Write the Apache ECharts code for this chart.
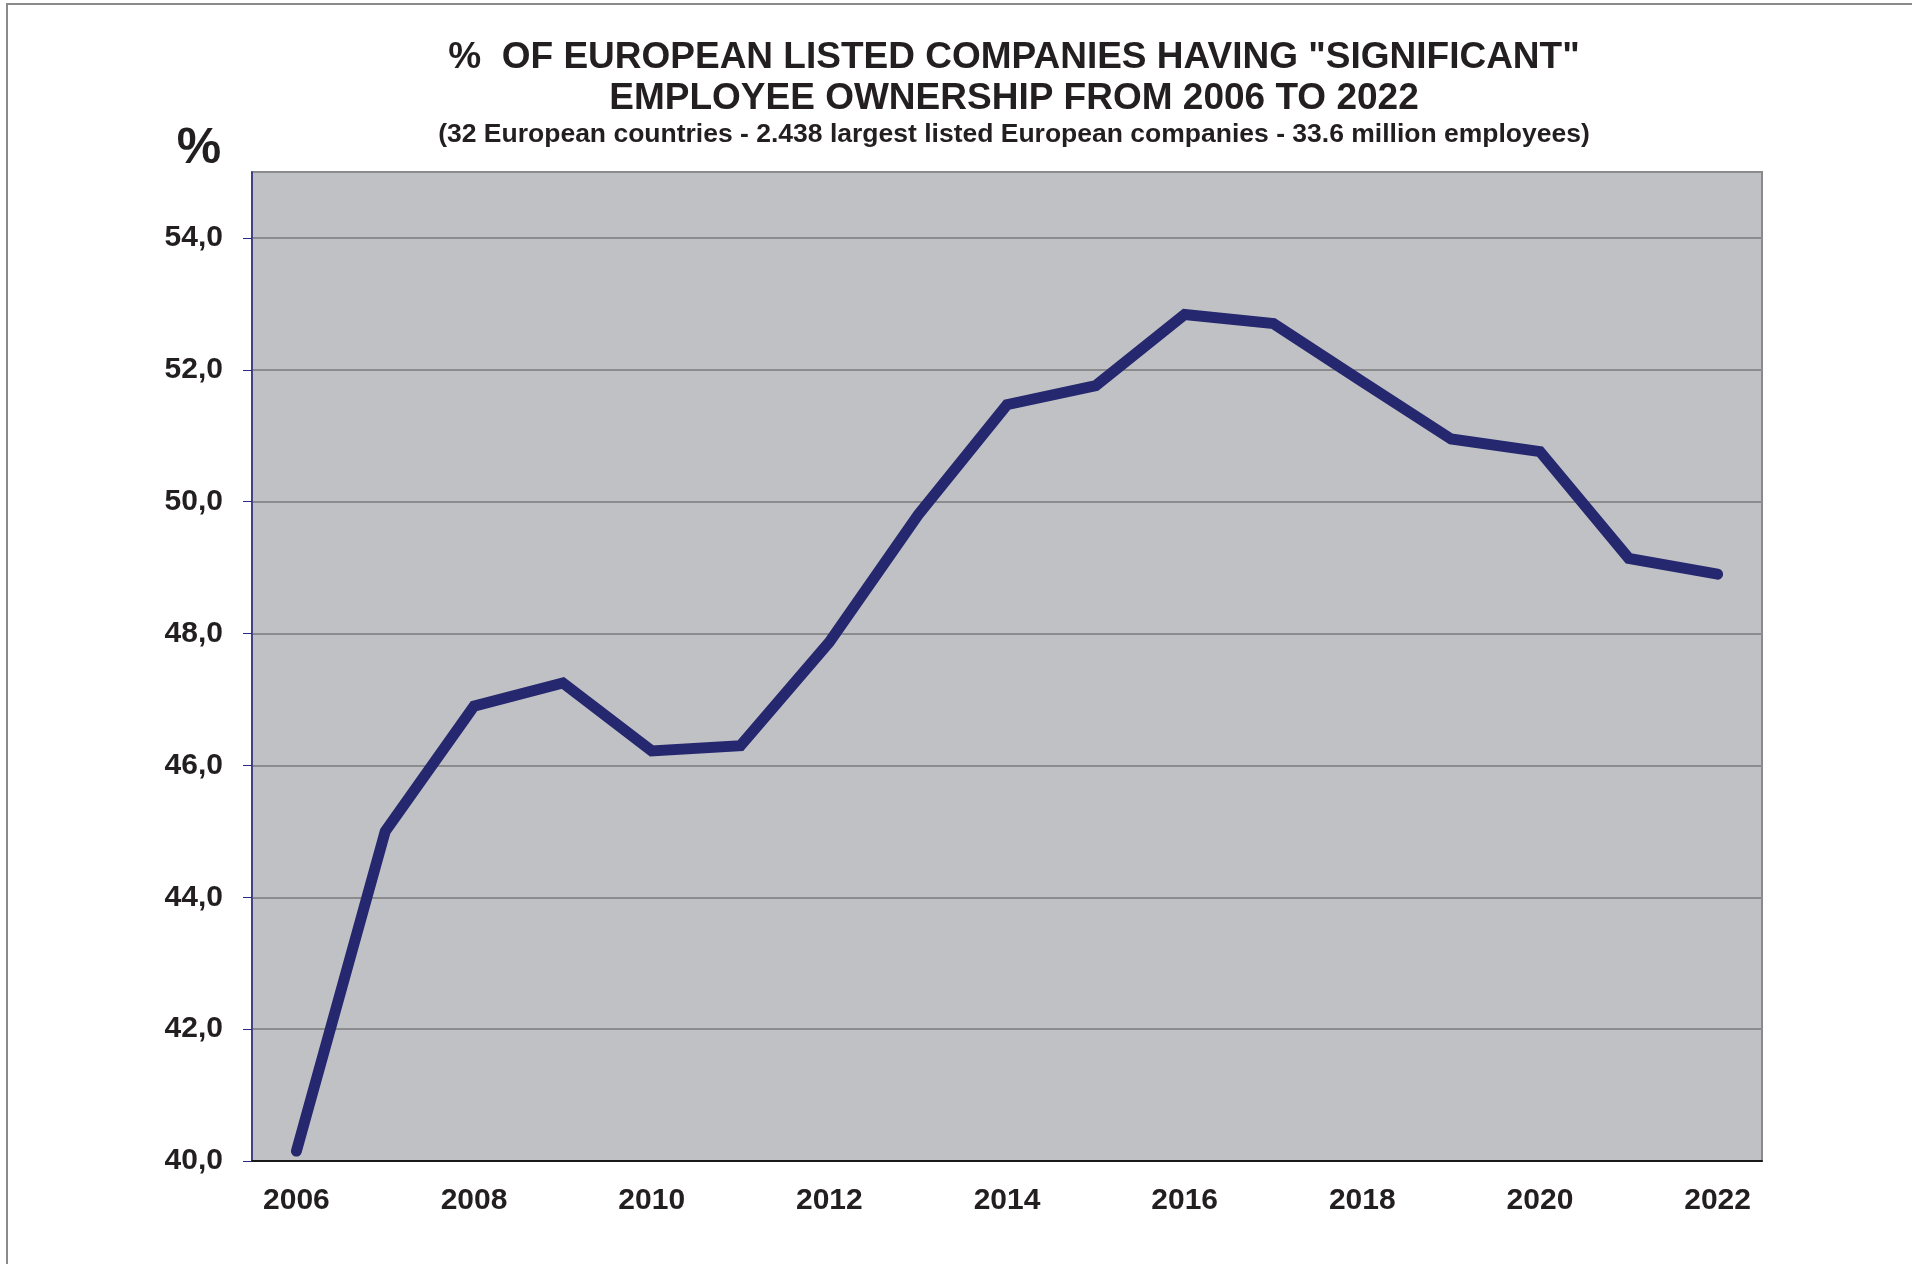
<!DOCTYPE html>
<html>
<head>
<meta charset="utf-8">
<script src="https://cdn.jsdelivr.net/npm/echarts@6/dist/echarts.min.js"></script>
<style>
  html, body { margin: 0; padding: 0; background: #fff; }
  #chart { width: 1912px; height: 1264px; }
</style>
</head>
<body>
<div id="chart"></div>
<script>
const years = ['2006', '2007', '2008', '2009', '2010', '2011', '2012', '2013', '2014',
  '2015', '2016', '2017', '2018', '2019', '2020', '2021', '2022']
const share = [40.15, 45.0, 46.9, 47.25, 46.22, 46.3, 47.87, 49.8, 51.47,
  51.76, 52.84, 52.7, 51.82, 50.95, 50.76, 49.14, 48.9]

const titleLines = '%  OF EUROPEAN LISTED COMPANIES HAVING "SIGNIFICANT"\nEMPLOYEE OWNERSHIP FROM 2006 TO 2022'
const subTitle = '(32 European countries - 2.438 largest listed European companies - 33.6 million employees)'

const ink = '#231f20'
const font = '"Liberation Sans", Arial, sans-serif'

const myChart = echarts.init(document.getElementById('chart'))
myChart.setOption({
  animation: false,
  backgroundColor: '#fff',
  title: [
    {
      text: titleLines,
      left: 1009,
      top: 32,
      textAlign: 'center',
      textStyle: { fontFamily: font, fontSize: 37, fontWeight: 'bold', color: ink, lineHeight: 41 }
    },
    {
      text: subTitle,
      left: 1009,
      top: 116,
      textAlign: 'center',
      textStyle: { fontFamily: font, fontSize: 26.5, fontWeight: 'bold', color: ink }
    },
    {
      text: '%',
      left: 194,
      top: 119,
      textAlign: 'center',
      textStyle: { fontFamily: font, fontSize: 50, fontWeight: 'bold', color: ink }
    }
  ],
  // page frame (top and left edges only)
  graphic: [
    {
      type: 'polyline',
      shape: { points: [[7, 1264], [7, 4], [1912, 4]] },
      style: { stroke: '#8a8a8a', lineWidth: 2, fill: null }
    }
  ],
  grid: {
    left: 252, right: 150, top: 172, bottom: 103,
    show: true,
    backgroundColor: '#c0c1c5',
    borderColor: '#8a8a8c',
    borderWidth: 2
  },
  xAxis: {
    type: 'category',
    data: years,
    boundaryGap: true,
    axisLine: { lineStyle: { color: '#1a1a1a', width: 2 } },
    axisTick: { interval: 0, length: 7, lineStyle: { color: '#555', width: 1 } },
    axisLabel: {
      interval: 1,
      margin: 25,
      fontFamily: font, fontSize: 30, fontWeight: 'bold', color: ink
    },
    splitLine: { show: false }
  },
  yAxis: {
    type: 'value',
    min: 40,
    max: 55,
    interval: 2,
    axisLine: { show: true, lineStyle: { color: '#2a2a80', width: 1.5 } },
    axisTick: { show: true, length: 9, lineStyle: { color: '#2a2a80', width: 1 } },
    axisLabel: {
      showMaxLabel: false,
      margin: 29,
      fontFamily: font, fontSize: 30, fontWeight: 'bold', color: ink,
      formatter: v => (v % 2 === 0 ? v.toFixed(1).replace('.', ',') : '')
    },
    splitLine: { lineStyle: { color: '#8c8c8e', width: 2 } }
  },
  series: [
    {
      type: 'line',
      data: share,
      symbol: 'none',
      smooth: false,
      lineStyle: { color: '#26286f', width: 11, cap: 'round', join: 'miter' }
    }
  ]
})
</script>
</body>
</html>
